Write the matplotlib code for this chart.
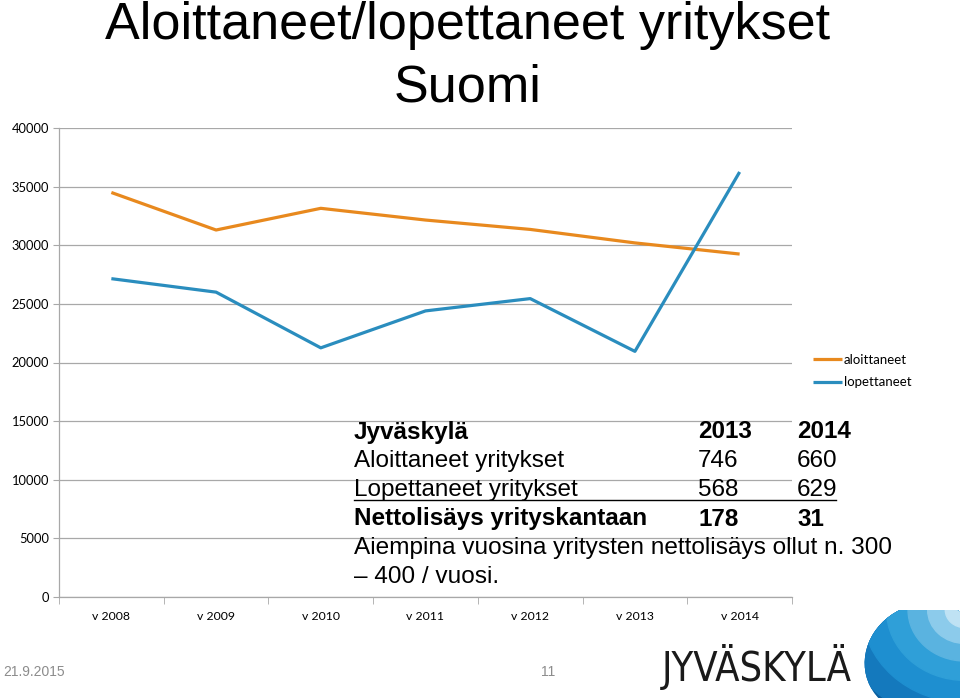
import matplotlib
matplotlib.use("Agg")
import matplotlib.pyplot as plt
from matplotlib.lines import Line2D
from matplotlib.patches import Ellipse, Circle

years = ["v 2008", "v 2009", "v 2010", "v 2011", "v 2012", "v 2013", "v 2014"]
aloittaneet = [34500, 31300, 33150, 32150, 31350, 30200, 29250]
lopettaneet = [27150, 26000, 21250, 24400, 25450, 20950, 36250]
y_ticks = [0, 5000, 10000, 15000, 20000, 25000, 30000, 35000, 40000]

table_rows = [
    ("Jyväskylä", "2013", "2014", "bold"),
    ("Aloittaneet yritykset", "746", "660", "normal"),
    ("Lopettaneet yritykset", "568", "629", "normal"),
    ("Nettolisäys yrityskantaan", "178", "31", "bold"),
]
note_lines = ["Aiempina vuosina yritysten nettolisäys ollut n. 300",
              "– 400 / vuosi."]

ORANGE = "#E8891E"
BLUE = "#2A8DBE"
GRID = "#A8A8A8"
W, H = 960, 698


def fx(px):
    return px / W


def fy(py):
    return 1 - py / H


fig = plt.figure(figsize=(9.6, 6.98), dpi=100)
ax = fig.add_axes([fx(59), fy(597), fx(792) - fx(59), fy(128) - fy(597)])

x = list(range(len(years)))
ax.plot(x, aloittaneet, color=ORANGE, lw=2.3, label="aloittaneet", solid_capstyle="butt")
ax.plot(x, lopettaneet, color=BLUE, lw=2.3, label="lopettaneet", solid_capstyle="butt")

ax.set_xlim(-0.5, len(years) - 0.5)
ax.set_ylim(0, 40000)
ax.set_yticks(y_ticks)
ax.set_yticklabels([str(v) for v in y_ticks], fontsize=9.3, family="Lato")
ax.set_xticks(x)
ax.set_xticklabels(years, fontsize=8.8, family="Lato")
ax.set_xticks([i - 0.5 for i in range(len(years) + 1)], minor=True)
ax.tick_params(axis="x", which="major", length=0, pad=10)
ax.tick_params(axis="x", which="minor", length=5, color=GRID, direction="out")
ax.tick_params(axis="y", length=4, color=GRID, pad=3)
ax.yaxis.grid(True, color=GRID, lw=0.9)
ax.set_axisbelow(True)
for side in ("top", "right"):
    ax.spines[side].set_visible(False)
for side in ("left", "bottom"):
    ax.spines[side].set_color(GRID)
    ax.spines[side].set_linewidth(0.9)

fig.legend(loc="center left", bbox_to_anchor=(fx(801), fy(371)), frameon=False,
           handlelength=2.2, handletextpad=0.15, labelspacing=0.8,
           prop={"family": "Lato", "size": 9.5})

# title
fig.text(fx(468), fy(39), "Aloittaneet/lopettaneet yritykset", ha="center", va="baseline",
         fontsize=37.5, family="Liberation Sans")
fig.text(fx(468), fy(102), "Suomi", ha="center", va="baseline",
         fontsize=37.5, family="Liberation Sans")

# table overlay
row_y = [432, 461, 490, 519]
for (label, a, b, weight), yy in zip(table_rows, row_y):
    for txt, xx in ((label, 354), (a, 698), (b, 797)):
        fig.text(fx(xx), fy(yy), txt, ha="left", va="center", fontsize=17.5,
                 fontweight=weight, family="Liberation Sans")
fig.add_artist(Line2D([fx(354), fx(836)], [fy(500), fy(500)], color="black", lw=1.0))
for line, yy in zip(note_lines, [548, 577]):
    fig.text(fx(354), fy(yy), line, ha="left", va="center", fontsize=17.6,
             family="Liberation Sans")

# footer
fig.text(fx(3), fy(672), "21.9.2015", ha="left", va="center", fontsize=10,
         color="#8C8C8C", family="Liberation Sans")
fig.text(fx(548), fy(672), "11", ha="center", va="center", fontsize=10,
         color="#8C8C8C", family="Liberation Sans")
fig.text(fx(662), fy(681), "JYVÄSKYLÄ", ha="left", va="baseline", fontsize=28.5,
         color="#1A1A1A", family="DejaVu Sans", fontstretch="condensed")

# logo swirl
lax = fig.add_axes([fx(862), 0, fx(960) - fx(862), fy(610)])
lax.set_xlim(0, 1)
lax.set_ylim(0, 1)
lax.axis("off")
clip = Ellipse((0.64, 0.44), 1.2, 1.3, angle=-30, transform=lax.transData)
stripes = [(1.9, "#3FA6DE"), (1.55, "#0B5E9E"), (1.3, "#1479BD"), (1.05, "#1E8FD0"),
           (0.8, "#2F9FD8"), (0.58, "#5AB3E0"), (0.38, "#8CCBEB"), (0.2, "#BFE2F4")]
for r, c in stripes:
    circ = Circle((1.05, 1.0), r, color=c, transform=lax.transData)
    lax.add_patch(circ)
    circ.set_clip_path(clip)

fig.savefig("out.png", dpi=100)
